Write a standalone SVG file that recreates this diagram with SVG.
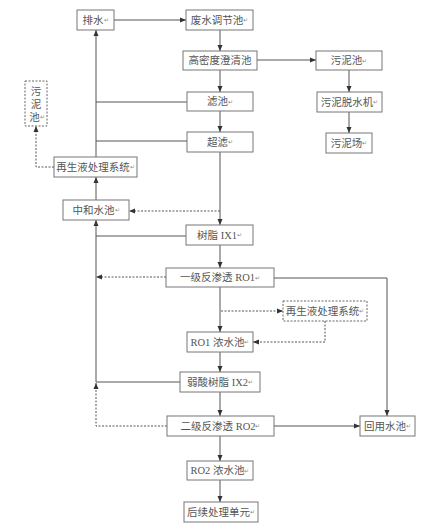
<svg xmlns="http://www.w3.org/2000/svg" width="447" height="530" viewBox="0 0 447 530">
<defs>
<marker id="ah" markerUnits="userSpaceOnUse" markerWidth="6" markerHeight="6" refX="6" refY="3" orient="auto">
<path d="M0,0.5 L6,3 L0,5.5 z" fill="#333"/>
</marker>
<style>
.box{fill:#fff;stroke:#777;stroke-width:1}
.dbox{fill:#fff;stroke:#666;stroke-width:1;stroke-dasharray:2,1.5}
.t{font-family:"Liberation Serif","Noto Sans CJK SC",serif;font-size:10.5px;fill:#555;text-anchor:middle;dominant-baseline:central}
.m{font-size:6px;fill:#888}
.c{fill:none;stroke:#555;stroke-width:1}
.d{fill:none;stroke:#555;stroke-width:1;stroke-dasharray:2,1.5}
</style>
</defs>
<rect width="447" height="530" fill="#fff"/>
<g id="connectors">
<line class="c" x1="114" y1="20" x2="186" y2="20" marker-end="url(#ah)"/>
<line class="c" x1="220" y1="30" x2="220" y2="51" marker-end="url(#ah)"/>
<line class="c" x1="220" y1="70" x2="220" y2="92" marker-end="url(#ah)"/>
<line class="c" x1="220" y1="111" x2="220" y2="132" marker-end="url(#ah)"/>
<line class="c" x1="220" y1="152" x2="220" y2="225" marker-end="url(#ah)"/>
<line class="d" x1="220" y1="211" x2="129" y2="211" marker-end="url(#ah)"/>
<line class="c" x1="220" y1="245" x2="220" y2="268" marker-end="url(#ah)"/>
<line class="c" x1="220" y1="287" x2="220" y2="332" marker-end="url(#ah)"/>
<line class="d" x1="221" y1="311" x2="283" y2="311" marker-end="url(#ah)"/>
<polyline class="d" points="325,321 325,342 253,342" marker-end="url(#ah)"/>
<line class="c" x1="220" y1="352" x2="220" y2="372" marker-end="url(#ah)"/>
<line class="c" x1="220" y1="392" x2="220" y2="416" marker-end="url(#ah)"/>
<line class="c" x1="220" y1="436" x2="220" y2="461" marker-end="url(#ah)"/>
<line class="c" x1="220" y1="480" x2="220" y2="502" marker-end="url(#ah)"/>
<line class="c" x1="274" y1="426" x2="360" y2="426" marker-end="url(#ah)"/>
<polyline class="c" points="274,278 387,278 387,416" marker-end="url(#ah)"/>
<line class="c" x1="257" y1="60" x2="316" y2="60" marker-end="url(#ah)"/>
<line class="c" x1="349" y1="70" x2="349" y2="92" marker-end="url(#ah)"/>
<line class="c" x1="349" y1="112" x2="349" y2="133" marker-end="url(#ah)"/>
<line class="c" x1="187" y1="102" x2="96" y2="102"/>
<line class="c" x1="187" y1="141" x2="96" y2="141"/>
<line class="c" x1="96" y1="157" x2="96" y2="30" marker-end="url(#ah)"/>
<polyline class="d" points="54,167 36,167 36,126" marker-end="url(#ah)"/>
<line class="c" x1="96" y1="200" x2="96" y2="177" marker-end="url(#ah)"/>
<line class="c" x1="96" y1="382" x2="96" y2="220" marker-end="url(#ah)"/>
<line class="c" x1="186" y1="236" x2="96" y2="236"/>
<line class="c" x1="180" y1="382" x2="96" y2="382"/>
<line class="d" x1="166" y1="277" x2="96" y2="277" marker-end="url(#ah)"/>
<polyline class="d" points="167,426 96,426 96,383" marker-end="url(#ah)"/>
</g>
<g id="n-paishui"><rect class="box" x="77" y="10" width="37" height="20"/><text class="t" x="95.5" y="20">排水<tspan class="m">↵</tspan></text></g>
<g id="n-tiaojie"><rect class="box" x="186" y="10" width="67" height="20"/><text class="t" x="219.5" y="20">废水调节池<tspan class="m">↵</tspan></text></g>
<g id="n-gaomi"><rect class="box" x="183" y="51" width="74" height="19"/><text class="t" x="220" y="60.5">高密度澄清池</text></g>
<g id="n-lvchi"><rect class="box" x="187" y="92" width="66" height="19"/><text class="t" x="220" y="101.5">滤池<tspan class="m">↵</tspan></text></g>
<g id="n-chaolv"><rect class="box" x="187" y="132" width="66" height="20"/><text class="t" x="220" y="142">超滤<tspan class="m">↵</tspan></text></g>
<g id="n-wunichi"><rect class="box" x="316" y="51" width="66" height="19"/><text class="t" x="349" y="60.5">污泥池<tspan class="m">↵</tspan></text></g>
<g id="n-tuoshui"><rect class="box" x="317" y="92" width="65" height="20"/><text class="t" x="349.5" y="102">污泥脱水机<tspan class="m">↵</tspan></text></g>
<g id="n-wunichang"><rect class="box" x="326" y="133" width="46" height="20"/><text class="t" x="349" y="143">污泥场<tspan class="m">↵</tspan></text></g>
<g id="n-wunichi-left"><rect class="dbox" x="25" y="81" width="22" height="45"/><text class="t" x="36" y="91">污</text><text class="t" x="36" y="104">泥</text><text class="t" x="37" y="117">池<tspan class="m">↵</tspan></text></g>
<g id="n-zaisheng1"><rect class="box" x="54" y="157" width="83" height="20"/><text class="t" x="95.5" y="167">再生液处理系统<tspan class="m">↵</tspan></text></g>
<g id="n-zhonghe"><rect class="box" x="63" y="200" width="66" height="20"/><text class="t" x="96" y="210">中和水池<tspan class="m">↵</tspan></text></g>
<g id="n-ix1"><rect class="box" x="186" y="225" width="67" height="20"/><text class="t" x="219.5" y="235">树脂 IX1<tspan class="m">↵</tspan></text></g>
<g id="n-ro1"><rect class="box" x="166" y="268" width="108" height="19"/><text class="t" x="220" y="277.5">一级反渗透 RO1<tspan class="m">↵</tspan></text></g>
<g id="n-zaisheng2"><rect class="dbox" x="283" y="301" width="84" height="20"/><text class="t" x="325" y="311">再生液处理系统<tspan class="m">↵</tspan></text></g>
<g id="n-ro1nong"><rect class="box" x="187" y="332" width="66" height="20"/><text class="t" x="220" y="342">RO1 浓水池<tspan class="m">↵</tspan></text></g>
<g id="n-ix2"><rect class="box" x="180" y="372" width="80" height="20"/><text class="t" x="220" y="382">弱酸树脂 IX2<tspan class="m">↵</tspan></text></g>
<g id="n-ro2"><rect class="box" x="167" y="416" width="107" height="20"/><text class="t" x="220.5" y="426">二级反渗透 RO2<tspan class="m">↵</tspan></text></g>
<g id="n-huiyong"><rect class="box" x="360" y="416" width="55" height="20"/><text class="t" x="387.5" y="426">回用水池<tspan class="m">↵</tspan></text></g>
<g id="n-ro2nong"><rect class="box" x="187" y="461" width="66" height="19"/><text class="t" x="220" y="470.5">RO2 浓水池<tspan class="m">↵</tspan></text></g>
<g id="n-houxu"><rect class="box" x="184" y="502" width="74" height="20"/><text class="t" x="221" y="512">后续处理单元<tspan class="m">↵</tspan></text></g>
</svg>
